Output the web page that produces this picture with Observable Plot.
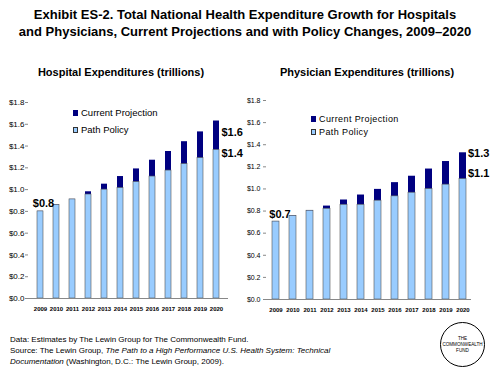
<!DOCTYPE html>
<html><head><meta charset="utf-8">
<script src="https://cdn.jsdelivr.net/npm/d3@7"></script>
<script src="https://cdn.jsdelivr.net/npm/@observablehq/plot@0.6"></script>
<style>
body{margin:0;background:#fff;font-family:"Liberation Sans",Arial,sans-serif;color:#000;}
#wrap{position:relative;width:490px;height:371px;overflow:hidden;background:#fff;}
.abs{position:absolute;}
#title{left:0;top:6px;width:490px;text-align:center;font-weight:bold;font-size:13px;line-height:17px;}
.sub{font-weight:bold;font-size:11px;white-space:nowrap;transform:translate(-50%,-50%);}
.leg{font-size:9.5px;white-space:nowrap;}
.leg div{display:flex;align-items:center;height:17px;}
.sw{display:inline-block;width:5px;height:6px;margin-right:3px;box-sizing:border-box;}
#footer{left:10px;top:334px;font-size:8px;line-height:11px;white-space:nowrap;}
#logo{left:440px;top:322px;width:45px;height:45px;border:1.5px solid #000;border-radius:50%;box-sizing:border-box;display:flex;flex-direction:column;align-items:center;justify-content:center;font-size:4.6px;line-height:6px;text-align:center;}
</style></head><body>
<div id="wrap">
  <div id="title" class="abs">Exhibit ES-2. Total National Health Expenditure Growth for Hospitals<br>and Physicians, Current Projections and with Policy Changes, 2009–2020</div>
  <div class="abs sub" style="left:121px;top:72px;">Hospital Expenditures (trillions)</div>
  <div class="abs sub" style="left:367px;top:72px;">Physician Expenditures (trillions)</div>
  <div id="phys" class="abs" style="left:240px;top:88px;"></div>
  <div id="hosp" class="abs" style="left:0;top:90px;"></div>
  <div id="legH" class="abs leg" style="left:73px;top:104px;"></div>
  <div id="legP" class="abs leg" style="left:311px;top:112px;font-size:9px;letter-spacing:0.4px;"></div>
  <div id="footer" class="abs">Data: Estimates by The Lewin Group for The Commonwealth Fund.<br>Source: The Lewin Group, <i>The Path to a High Performance U.S. Health System: Technical</i><br><i>Documentation</i> (Washington, D.C.: The Lewin Group, 2009).</div>
  <div id="logo" class="abs"><div>THE</div><div>COMMONWEALTH</div><div>FUND</div></div>
</div>
<script>
const years = ["2009","2010","2011","2012","2013","2014","2015","2016","2017","2018","2019","2020"];
const hospitalCurrent = [0.80,0.86,0.91,0.98,1.05,1.12,1.19,1.27,1.35,1.44,1.53,1.63];
const hospitalPath    = [0.80,0.86,0.91,0.955,1.00,1.015,1.07,1.12,1.175,1.235,1.29,1.365];
const physicianCurrent = [0.705,0.757,0.803,0.845,0.90,0.945,0.996,1.057,1.115,1.18,1.248,1.327];
const physicianPath    = [0.705,0.757,0.803,0.821,0.857,0.857,0.894,0.933,0.966,1.0,1.039,1.09];
const yTicks = [0,0.2,0.4,0.6,0.8,1.0,1.2,1.4,1.6,1.8];
const seriesNames = ["Current Projection","Path Policy"];
const colors = ["#000080","#99CCFF"];

const money = v => "$" + v.toFixed(1);

function chart(current, path, o) {
  const rows = years.map((y, i) => ({year: y, current: current[i], path: path[i]}));
  const first = rows[0], last = rows[rows.length - 1];
  return Plot.plot({
    width: o.width, height: 230,
    marginLeft: o.ml, marginRight: o.mr, marginTop: 12, marginBottom: o.mb,
    style: {fontFamily: '"Liberation Sans", Arial, sans-serif', background: "transparent"},
    x: {domain: years, paddingInner: 0.6, paddingOuter: 0.3},
    y: {domain: [0, 1.8]},
    marks: [
      Plot.barY(rows, {x: "year", y1: 0, y2: "current", fill: colors[0]}),
      Plot.barY(rows, {x: "year", y1: 0, y2: "path", fill: colors[1], stroke: "#555", strokeWidth: 0.6}),
      Plot.axisY({ticks: yTicks, tickFormat: money, tickSize: 3, tickPadding: o.tp, fontSize: o.yfs, label: null, stroke: "#888", fill: "#000", line: true}),
      Plot.axisX({tickSize: 0, tickPadding: 8, fontSize: 6, fontWeight: "bold", label: null, fill: "#000"}),
      Plot.ruleY([0], {stroke: "#888"}),
      Plot.text([first], {x: "year", y: "path", text: d => money(d.path), dx: o.d0[0], dy: o.d0[1], fontSize: 11, fontWeight: "bold", textAnchor: "middle"}),
      Plot.text([last], {x: "year", y: "current", text: d => money(d.current), dx: 5, dy: o.d1, fontSize: 11, fontWeight: "bold", textAnchor: "start"}),
      Plot.text([last], {x: "year", y: "path", text: d => money(d.path), dx: 5, dy: o.d2, fontSize: 11, fontWeight: "bold", textAnchor: "start"})
    ]
  });
}

document.getElementById("hosp").append(chart(hospitalCurrent, hospitalPath, {width: 256, ml: 28, mr: 28, mb: 22, tp: 1, yfs: 8, d0: [3, -8], d1: 11, d2: 4}));
document.getElementById("phys").append(chart(physicianCurrent, physicianPath, {width: 250, ml: 26, mr: 19, mb: 19, tp: 3, yfs: 7, d0: [4, -7], d1: 1, d2: -6}));

function legend(el) {
  seriesNames.forEach((n, i) => {
    const row = document.createElement("div");
    const sw = document.createElement("span");
    sw.className = "sw";
    sw.style.background = colors[i];
    sw.style.border = i ? "0.8px solid #333" : "none";
    row.append(sw, document.createTextNode(n));
    el.append(row);
  });
}
legend(document.getElementById("legH"));
legend(document.getElementById("legP"));
document.querySelectorAll("#legP div").forEach(d => d.style.height = "13px");
</script>
</body></html>
